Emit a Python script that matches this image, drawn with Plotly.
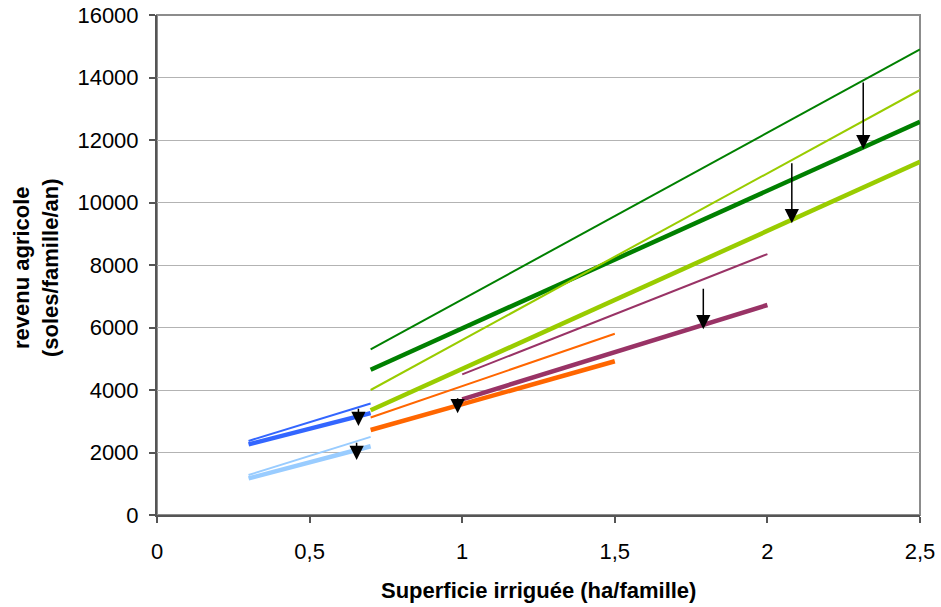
import plotly.graph_objects as go

# ---- data ----
x_small = [0.3, 0.7]
blue_thin = [2370, 3570]
blue_thick = [2260, 3260]
lblue_thin = [1280, 2500]
lblue_thick = [1170, 2200]

x_green = [0.7, 2.5]
dgreen_thin = [5300, 14900]
dgreen_thick = [4650, 12580]
lgreen_thin = [4000, 13600]
lgreen_thick = [3350, 11300]

x_orange = [0.7, 1.5]
orange_thin = [3120, 5800]
orange_thick = [2720, 4920]

x_purple = [1.0, 2.0]
purple_thin = [4500, 8350]
purple_thick = [3700, 6720]

# arrows: x, start value, tip value
arrow_x = [0.66, 0.654, 0.985, 1.79, 2.08, 2.314]
arrow_from = [3450, 2360, 3786, 7286, 11306, 13888]
arrow_to = [2850, 1760, 3254, 5942, 9334, 11702]

x_ticks = [0, 0.5, 1, 1.5, 2, 2.5]
x_ticklabels = ["0", "0,5", "1", "1,5", "2", "2,5"]
y_ticks = [0, 2000, 4000, 6000, 8000, 10000, 12000, 14000, 16000]
y_ticklabels = ["0", "2000", "4000", "6000", "8000", "10000", "12000", "14000", "16000"]

C_BLUE = "#3366FF"
C_LBLUE = "#99CCFF"
C_DGREEN = "#008000"
C_LGREEN = "#99CC00"
C_ORANGE = "#FF6600"
C_PURPLE = "#993366"

THIN = 2
THICK = 4.5

series = [
    (x_green, dgreen_thin, C_DGREEN, THIN),
    (x_green, dgreen_thick, C_DGREEN, THICK),
    (x_green, lgreen_thin, C_LGREEN, THIN),
    (x_green, lgreen_thick, C_LGREEN, THICK),
    (x_purple, purple_thin, C_PURPLE, THIN),
    (x_purple, purple_thick, C_PURPLE, THICK),
    (x_orange, orange_thin, C_ORANGE, THIN),
    (x_orange, orange_thick, C_ORANGE, THICK),
    (x_small, blue_thin, C_BLUE, THIN),
    (x_small, blue_thick, C_BLUE, THICK),
    (x_small, lblue_thin, C_LBLUE, THIN),
    (x_small, lblue_thick, C_LBLUE, THICK),
]

fig = go.Figure()
for xs, ys, col, w in series:
    fig.add_trace(go.Scatter(x=xs, y=ys, mode="lines",
                             line=dict(color=col, width=w),
                             showlegend=False, hoverinfo="skip"))

for xa, y0, y1 in zip(arrow_x, arrow_from, arrow_to):
    fig.add_annotation(x=xa, y=y1, ax=xa, ay=y0, xref="x", yref="y",
                       axref="x", ayref="y", showarrow=True, text="",
                       arrowhead=2, arrowsize=1.9, arrowwidth=1.5,
                       arrowcolor="black")

FONT = "Liberation Sans, Arial, sans-serif"
FS = 22

fig.add_annotation(xref="paper", yref="paper", x=-0.1586, y=0.496,
                   text="<b>revenu agricole<br>(soles/famille/an)</b>",
                   textangle=-90, showarrow=False, xanchor="center",
                   yanchor="middle", font=dict(size=FS, color="black", family=FONT))
fig.add_annotation(xref="paper", yref="paper", x=0.5, y=-0.15,
                   text="<b>Superficie irriguée (ha/famille)</b>",
                   showarrow=False, xanchor="center", yanchor="middle",
                   font=dict(size=FS, color="black", family=FONT))

# frame
fig.add_shape(type="rect", xref="paper", yref="paper", x0=0, y0=0, x1=1, y1=1,
              line=dict(color="#8c8c8c", width=2), layer="below")

fig.update_layout(
    width=941, height=607,
    margin=dict(l=157, r=21, t=15, b=92, autoexpand=False),
    plot_bgcolor="white", paper_bgcolor="white",
    font=dict(family=FONT, size=FS, color="black"),
    xaxis=dict(range=[0, 2.5], tickvals=x_ticks, ticktext=x_ticklabels,
               showgrid=False, zeroline=False, showline=True, automargin=False,
               linecolor="#555555", linewidth=2, ticks="outside",
               ticklen=6, tickcolor="#555555", tickwidth=1.5,
               ticklabelstandoff=10, ticklabeloverflow="allow",
               tickfont=dict(size=FS)),
    yaxis=dict(range=[0, 16000], tickvals=y_ticks, ticktext=y_ticklabels,
               showgrid=True, gridcolor="#b3b3b3", gridwidth=1,
               zeroline=False, showline=True, automargin=False,
               linecolor="#555555", linewidth=2, ticks="outside",
               ticklen=6, tickcolor="#555555", tickwidth=1.5,
               ticklabelstandoff=6, ticklabeloverflow="allow",
               tickfont=dict(size=FS)),
)

# remove the default 8px page margin so the figure fills the window exactly
fig.write_html("out.html", config={"displayModeBar": False},
               post_script="document.body.style.margin='0px';")
